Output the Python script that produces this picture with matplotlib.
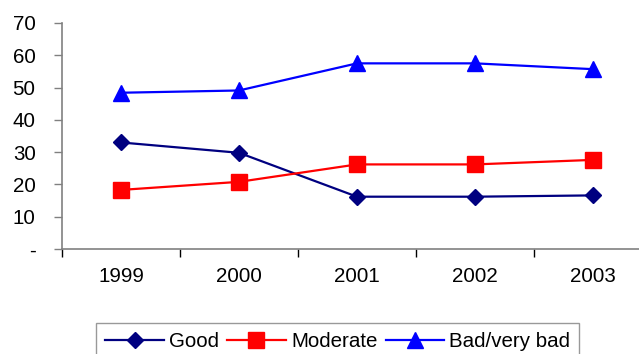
import numpy as np
import matplotlib
matplotlib.use('Agg')
import matplotlib.pyplot as plt

# Data
years = ['1999', '2000', '2001', '2002', '2003']
good = [33.0, 29.8, 16.2, 16.2, 16.6]
moderate = [18.3, 20.8, 26.2, 26.2, 27.6]
bad = [48.4, 49.1, 57.5, 57.5, 55.7]
y_ticks = [0, 10, 20, 30, 40, 50, 60, 70]
y_tick_labels = ['-', '10', '20', '30', '40', '50', '60', '70']

plt.rcParams['font.family'] = ['Liberation Sans', 'DejaVu Sans']
font_size = 14.8
line_width = 1.6
spine_col = '#808080'

fig = plt.figure(figsize=(6.39, 3.54), dpi=100)
# axes deliberately runs past the right edge, as in the reference
ax = fig.add_axes([62 / 639, 1 - 249 / 354, 590 / 639, 226 / 354])

x = np.arange(len(years))
ax.plot(x, good, color='#000080', marker='D', markersize=7.8, linewidth=line_width, label='Good')
ax.plot(x, moderate, color='#FF0000', marker='s', markersize=11.5, linewidth=line_width, label='Moderate')
ax.plot(x, bad, color='#0000FF', marker='^', markersize=11, linewidth=line_width, label='Bad/very bad')

ax.set_xlim(-0.5, len(years) - 0.5)
ax.set_ylim(0, 70)
ax.set_yticks(y_ticks)
ax.set_yticklabels(y_tick_labels, fontsize=font_size)

# category labels at centres, ticks at boundaries
ax.set_xticks(x)
ax.set_xticklabels(years, fontsize=font_size)
ax.tick_params(axis='x', which='major', length=0, pad=13)
ax.set_xticks(np.arange(len(years) + 1) - 0.5, minor=True)
ax.tick_params(axis='x', which='minor', length=6, direction='out', color='k', width=1)
ax.tick_params(axis='y', length=6, direction='out', color=spine_col, width=1, pad=13)

for side in ['top', 'right']:
    ax.spines[side].set_visible(False)
for side in ['left', 'bottom']:
    ax.spines[side].set_color(spine_col)
    ax.spines[side].set_linewidth(1.2)

leg = fig.legend(loc='upper left', bbox_to_anchor=(96 / 639, 1 - 323 / 354), ncol=3,
                 fontsize=font_size, frameon=True, fancybox=False, handlelength=2.85,
                 handletextpad=0.25, columnspacing=0.4, borderpad=0.45, borderaxespad=0)
leg.get_frame().set_edgecolor(spine_col)
leg.get_frame().set_linewidth(1.0)

fig.savefig('out.png', dpi=100)
